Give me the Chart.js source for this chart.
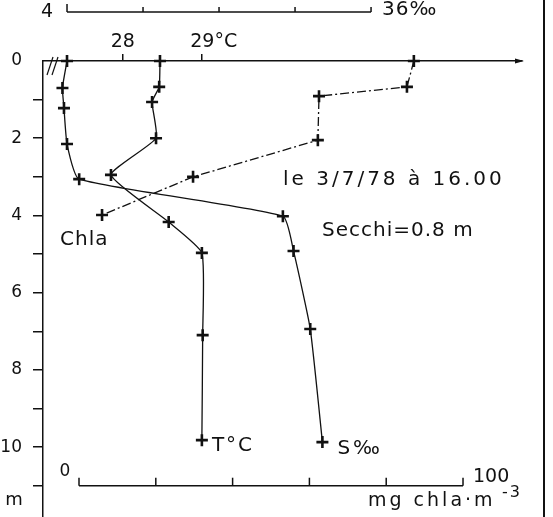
<!DOCTYPE html>
<html>
<head>
<meta charset="utf-8">
<script src="https://cdn.jsdelivr.net/npm/chart.js@4.4.1/dist/chart.umd.min.js"></script>
<style>
html, body { margin: 0; padding: 0; background: #fff; }
canvas { display: block; }
</style>
</head>
<body>
<canvas id="grafico" width="553" height="517"></canvas>
<script>
// profils du 3/7/78 : temperature, salinite et chlorophylle en fonction de la profondeur (m)
var depthT = [0, 0.67, 1.06, 2.0, 2.95, 4.17, 4.97, 7.1, 9.82];
var tempC = [28.47, 28.46, 28.37, 28.42, 27.85, 28.58, 29.0, 29.01, 29.0];

var depthS = [0, 0.70, 1.22, 2.15, 3.06, 4.02, 4.92, 6.94, 9.87];
var salinity = [34.0, 33.97, 33.98, 34.0, 34.08, 35.42, 35.49, 35.60, 35.68];

var depthChla = [0, 0.67, 0.91, 2.05, 3.0, 3.99];
var chla = [87.2, 85.4, 62.5, 62.2, 29.7, 6.0];

// axes
var depthTicks = [0, 1, 2, 3, 4, 5, 6, 7, 8, 9, 10, 11];
var tempTicks = [28, 29];
var tempTickLabels = ['28', '\u2003\u200529\u00b0C'];
var salTicks = [34, 34.5, 35, 35.5, 36];
var chlaTicks = [0, 20, 40, 60, 80, 100];

var ink = '#111';
var police = 'DejaVu Sans';
Chart.defaults.font.family = police;
Chart.defaults.color = ink;

function pontos(xs, ys)
{
    return ys.map(function (d, i) { return { x: xs[i], y: d }; });
}

function serie(nome, xs, ys, eixo, extra)
{
    var ds = {
        label: nome,
        data: pontos(xs, ys),
        xAxisID: eixo,
        yAxisID: 'y',
        showLine: true,
        clip: false,
        borderColor: ink,
        borderWidth: 1.3,
        tension: 0.15,
        pointStyle: 'cross',
        pointRadius: 6,
        pointBorderWidth: 2.6,
        pointBorderColor: ink,
        pointBackgroundColor: ink
    };
    return Object.assign(ds, extra || {});
}

function texto(ctx, s, x, y, size, spacing, align)
{
    ctx.font = size + 'px "' + police + '"';
    try { ctx.letterSpacing = (spacing || 0) + 'px'; } catch (e) {}
    ctx.textAlign = align || 'left';
    ctx.textBaseline = 'middle';
    ctx.fillText(s, x, y);
}

function traco(ctx, x1, y1, x2, y2)
{
    ctx.beginPath();
    ctx.moveTo(x1, y1);
    ctx.lineTo(x2, y2);
    ctx.stroke();
}

// eixos secundarios (salinidade, chla) e anotacoes
var decor = {
    id: 'decor',
    afterDraw: function (chart) {
        var ctx = chart.ctx, a = chart.chartArea;
        var xs = chart.scales.xs, xc = chart.scales.xc, y = chart.scales.y;
        ctx.save();
        ctx.strokeStyle = ink;
        ctx.fillStyle = ink;
        ctx.lineWidth = 1.5;

        // salinity axis above the temperature one
        var ys = a.top - 49;
        traco(ctx, xs.getPixelForValue(34), ys, xs.getPixelForValue(36), ys);
        salTicks.forEach(function (v) {
            var px = xs.getPixelForValue(v);
            traco(ctx, px, ys, px, ys - (v === 34 ? 8 : 5));
        });
        texto(ctx, '4', xs.getPixelForValue(34) - 14, ys, 19, 0, 'right');
        texto(ctx, '36\u2030', xs.getPixelForValue(36) + 11, ys - 2, 20, 1, 'left');

        // arrow + break on the temperature axis
        ctx.beginPath();
        ctx.moveTo(a.right + 2, a.top);
        ctx.lineTo(a.right - 7, a.top - 2.5);
        ctx.lineTo(a.right - 7, a.top + 2.5);
        ctx.closePath();
        ctx.fill();
        ctx.lineWidth = 1.2;
        traco(ctx, a.left + 10, a.top - 4, a.left + 4, a.top + 14);
        traco(ctx, a.left + 15, a.top - 4, a.left + 9, a.top + 14);

        // chla axis at the bottom
        ctx.lineWidth = 1.5;
        var yc = y.getPixelForValue(11);
        traco(ctx, xc.getPixelForValue(0), yc, xc.getPixelForValue(100), yc);
        chlaTicks.forEach(function (v) {
            var px = xc.getPixelForValue(v);
            traco(ctx, px, yc, px, yc - 8);
        });
        var p0 = xc.getPixelForValue(0), p100 = xc.getPixelForValue(100);
        texto(ctx, '0', p0 - 14, yc - 14, 17, 0, 'center');
        texto(ctx, '100', p100 + 10, yc - 9, 19, 0, 'left');
        texto(ctx, 'mg chla\u00b7m', p100 - 95, yc + 15, 19, 3, 'left');
        texto(ctx, '-3', p100 + 39, yc + 7, 16, 2, 'left');

        // unit of depth
        texto(ctx, 'm', 14, 500, 18, 0, 'center');

        // series labels next to their last point
        var sT = chart.getDatasetMeta(0).data, sS = chart.getDatasetMeta(1).data, sC = chart.getDatasetMeta(2).data;
        var lt = sT[sT.length - 1], ls = sS[sS.length - 1], lc = sC[sC.length - 1];
        texto(ctx, 'T\u00b0C', lt.x + 10, lt.y + 6, 20, 2, 'left');
        texto(ctx, 'S\u2030', ls.x + 15, ls.y + 7, 20, 3, 'left');
        texto(ctx, 'Chla', lc.x - 42, lc.y + 25, 20, 1, 'left');

        texto(ctx, 'le 3/7/78 \u00e0 16.00', 283, 180, 20, 3, 'left');
        texto(ctx, 'Secchi=0.8 m', 322, 231, 20, 1, 'left');

        // frame on the right
        ctx.lineWidth = 2;
        traco(ctx, 544, 0, 544, 517);
        ctx.restore();
    }
};

function semMargem(s)
{
    s.paddingTop = 0;
    s.paddingBottom = 0;
    s.paddingLeft = 0;
    s.paddingRight = 0;
}

var ctx = document.getElementById('grafico').getContext('2d');
var chart = new Chart(ctx, {
    type: 'scatter',
    data: {
        datasets: [
            serie('T\u00b0C', tempC, depthT, 'x'),
            serie('S\u2030', salinity, depthS, 'xs'),
            serie('Chla', chla, depthChla, 'xc', { tension: 0, borderDash: [9, 3, 2, 3] })
        ]
    },
    options: {
        responsive: false,
        animation: false,
        events: [],
        layout: { autoPadding: false, padding: { left: 0, right: 31, top: 0, bottom: 0 } },
        plugins: { legend: { display: false }, tooltip: { enabled: false } },
        scales: {
            x: {
                type: 'linear',
                position: 'top',
                min: 26.99,
                max: 33.05,
                afterFit: function (s) { s.height = 61; semMargem(s); },
                afterBuildTicks: function (s) { s.ticks = tempTicks.map(function (v) { return { value: v }; }); },
                ticks: {
                    autoSkip: false,
                    maxRotation: 0,
                    padding: 1,
                    color: ink,
                    font: { size: 19 },
                    callback: function (v, i) { return tempTickLabels[i]; }
                },
                grid: { drawOnChartArea: false, drawTicks: true, tickLength: 7, color: ink, lineWidth: 1.5 },
                border: { display: true, color: ink, width: 1.5 }
            },
            xs: { type: 'linear', axis: 'x', position: 'top', display: false, min: 33.842, max: 36.993 },
            xc: { type: 'linear', axis: 'x', position: 'bottom', display: false, min: -9.375, max: 115.36 },
            y: {
                type: 'linear',
                position: 'left',
                reverse: true,
                min: 0,
                max: 11.81,
                afterFit: function (s) { s.width = 43; semMargem(s); },
                afterBuildTicks: function (s) { s.ticks = depthTicks.map(function (v) { return { value: v }; }); },
                ticks: {
                    autoSkip: false,
                    padding: 11,
                    color: ink,
                    font: { size: 17 },
                    callback: function (v) { return (v % 2 === 0 && v <= 10) ? String(v) : ''; }
                },
                grid: {
                    drawOnChartArea: false,
                    drawTicks: true,
                    tickLength: 10,
                    lineWidth: 1.5,
                    color: function (c) { return (c.tick && c.tick.value === 0) ? 'rgba(0,0,0,0)' : ink; }
                },
                border: { display: true, color: ink, width: 1.5 }
            }
        }
    },
    plugins: [decor]
});
</script>
</body>
</html>
